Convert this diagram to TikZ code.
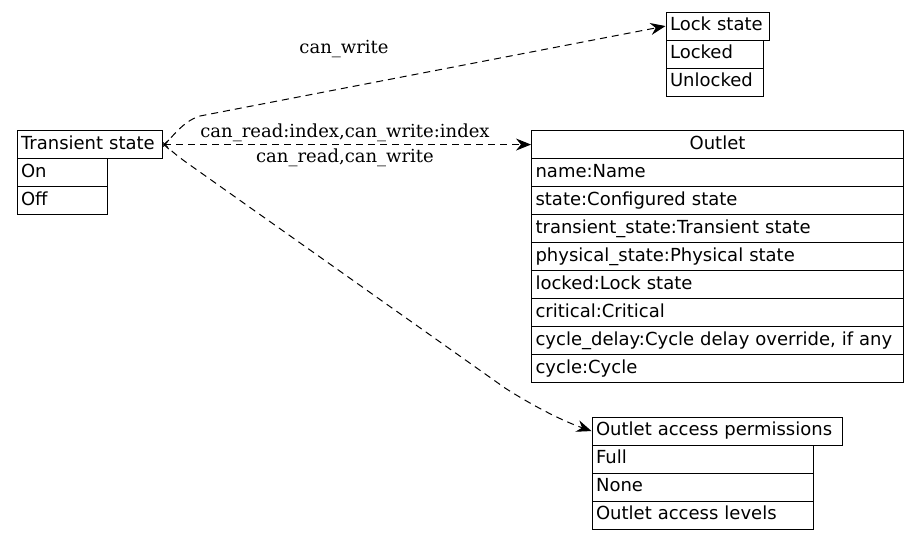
\documentclass[tikz,border=0pt]{standalone}
\usepackage{fontspec}
\newfontfamily\boxfont{DejaVu Sans}
\newfontfamily\lblfont{DejaVu Serif}
\usetikzlibrary{arrows.meta}
\begin{document}
\begin{tikzpicture}[x=1pt,y=-1pt,
  cell/.style={draw, line width=1.1pt, inner xsep=4pt, inner ysep=0pt,
    minimum height=28pt, text height=13.5pt, text depth=4.5pt,
    align=left, anchor=north west, font=\fontsize{18}{21}\boxfont},
  edge/.style={line width=1pt, dash pattern=on 7pt off 5pt},
  tipfull/.style={-{Stealth[length=15pt,width=12pt,inset=5pt]}},
  lbl/.style={font=\fontsize{18}{21}\lblfont, inner sep=0pt}]
\useasboundingbox (0,0) rectangle (919,539);

% Transient state
\node[cell, text width=137.5pt] (th) at (16.5,130) {Transient state};
\node[cell, text width=82.5pt] (t1) at (16.5,158) {On};
\node[cell, text width=82.5pt] (t2) at (16.5,186) {Off};

% Lock state
\node[cell, text width=95pt] (lh) at (665.5,11.5) {Lock state};
\node[cell, text width=89.5pt] (l1) at (665.5,39.5) {Locked};
\node[cell, text width=89.5pt] (l2) at (665.5,67.5) {Unlocked};

% Outlet
\node[cell, text width=364pt, align=center] (oh) at (531,130) {Outlet};
\node[cell, text width=364pt] (o1) at (531,158) {name:Name};
\node[cell, text width=364pt] (o2) at (531,186) {state:Configured state};
\node[cell, text width=364pt] (o3) at (531,214) {transient\_state:Transient state};
\node[cell, text width=364pt] (o4) at (531,242) {physical\_state:Physical state};
\node[cell, text width=364pt] (o5) at (531,270) {locked:Lock state};
\node[cell, text width=364pt] (o6) at (531,298) {critical:Critical};
\node[cell, text width=364pt] (o7) at (531,326) {cycle\_delay:Cycle delay override, if any};
\node[cell, text width=364pt] (o8) at (531,354) {cycle:Cycle};

% Outlet access permissions
\node[cell, text width=242pt] (ph) at (591.5,416.5) {Outlet access permissions};
\node[cell, text width=213pt] (p1) at (591.5,444.5) {Full};
\node[cell, text width=213pt] (p2) at (591.5,472.5) {None};
\node[cell, text width=213pt] (p3) at (591.5,500.5) {Outlet access levels};

% helper coordinates
\coordinate (ub) at (200,116);
\coordinate (la) at (190,165);
\coordinate (lb) at (505,388);

% edges
\draw[edge, tipfull] ([yshift=-2pt]th.east) .. controls (176,132) and (186,120) .. (ub) -- (lh.west);
\draw[edge, {Straight Barb[length=5pt,width=9pt]}-{Stealth[length=15pt,width=12pt,inset=5pt]}] (th.east) -- (oh.west);
\draw[edge, tipfull] ([yshift=2pt]th.east) .. controls (172,152) and (180,158) .. (la) -- (lb) .. controls (530,404) and (560,420) .. (ph.west);

% labels
\node[lbl] (lw) at (344,49) {can\_write};
\node[lbl] (lri) at (345,133) {can\_read:index,can\_write:index};
\node[lbl] (lrw) at (345,158) {can\_read,can\_write};
\end{tikzpicture}
\end{document}
